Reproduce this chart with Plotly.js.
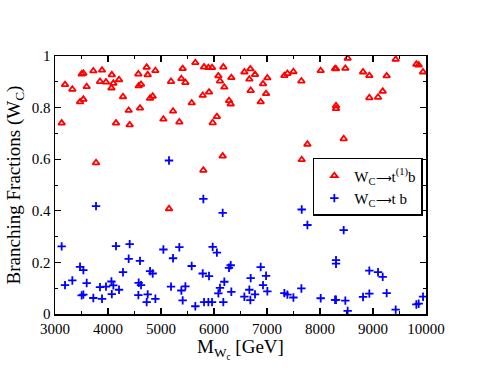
<!DOCTYPE html>
<html>
<head>
<meta charset="utf-8">
<script src="https://cdn.plot.ly/plotly-3.0.1.min.js"></script>
<style>
body{margin:0;background:#fff;}
#chart{width:480px;height:371px;}
</style>
</head>
<body>
<div id="chart"></div>
<script>
// masses of the W_C points (GeV), shared by both decay channels
let massWC = [3126,3189,3327,3472,3503,3535,3535,3598,3723,3774,3849,3887,3962,4065,4072,4101,
  4151,4208,4283,4390,4409,4573,4579,4623,4604,4730,4749,4793,4843,4894,5045,5151,5189,5227,
  5346,5384,5409,5460,5579,5648,5799,5787,5812,5894,5906,5963,5975,6055,6082,6113,6164,6176,
  6195,6283,6315,6327,6573,6667,6686,6692,6774,6881,6925,6982,7007,7328,7385,7498,7649,7655,
  7762,8013,8284,8302,8302,8302,8447,8478,8522,8812,8931,8931,9095,9183,9258,9428,9818,9862,9944];

// BR(W_C -> t(1) b)
let brT1b = [0.740,0.889,0.871,0.822,0.930,0.933,0.832,0.881,0.942,0.586,0.901,0.945,0.899,0.876,0.927,0.894,
  0.740,0.908,0.842,0.789,0.733,0.930,0.884,0.890,0.798,0.956,0.927,0.836,0.844,0.943,0.755,0.408,0.901,0.786,
  0.744,0.912,0.951,0.897,0.818,0.974,0.557,0.847,0.957,0.955,0.860,0.955,0.741,0.765,0.923,0.903,0.612,0.957,
  0.879,0.827,0.814,0.916,0.938,0.910,0.950,0.866,0.928,0.822,0.892,0.854,0.915,0.924,0.932,0.939,0.903,0.598,
  0.658,0.943,0.951,0.950,0.807,0.796,0.679,0.952,0.991,0.938,0.924,0.838,0.840,0.863,0.923,0.987,0.968,0.965,0.938];

// BR(W_C -> t b)
let brTb = [0.262,0.112,0.130,0.183,0.072,0.075,0.170,0.120,0.062,0.418,0.104,0.059,0.106,0.126,0.077,0.111,
  0.263,0.094,0.162,0.214,0.271,0.073,0.121,0.112,0.206,0.046,0.076,0.166,0.157,0.059,0.250,0.595,0.106,0.216,
  0.259,0.091,0.053,0.107,0.186,0.030,0.446,0.157,0.046,0.046,0.147,0.046,0.260,0.238,0.080,0.101,0.392,0.046,
  0.125,0.179,0.189,0.086,0.067,0.094,0.054,0.139,0.076,0.182,0.112,0.148,0.088,0.081,0.075,0.064,0.099,0.405,
  0.345,0.061,0.055,0.055,0.195,0.209,0.325,0.052,0.012,0.066,0.079,0.168,0.162,0.144,0.081,0.017,0.037,0.040,0.067];

let serif = "Liberation Serif, Times New Roman, serif";
let arrow = '<span style="font-size:11px">\u27F6</span>';

let traceT1b = {
  x: massWC,
  y: brT1b,
  mode: 'markers',
  name: 'W<sub>C</sub>' + arrow + 't<sup>(1)</sup>b',
  marker: {symbol: 'triangle-up-open', size: 6, color: '#ff0000', line: {color: '#ff0000', width: 1.8}}
};
let traceTb = {
  x: massWC,
  y: brTb,
  mode: 'markers',
  name: 'W<sub>C</sub>' + arrow + 't b',
  marker: {symbol: 'cross-thin-open', size: 6, color: '#0000ff', line: {color: '#0000ff', width: 1.8}}
};

let axisCommon = {
  showgrid: false,
  zeroline: false,
  showline: true,
  linecolor: '#000',
  linewidth: 1.5,
  mirror: 'ticks',
  ticks: 'inside',
  ticklen: 6,
  tickwidth: 1.2,
  tickcolor: '#000',
  tickfont: {family: serif, size: 15, color: '#000'}
};

let layout = {
  width: 480,
  height: 371,
  margin: {l: 55, r: 54, t: 56, b: 57},
  paper_bgcolor: '#fff',
  plot_bgcolor: '#fff',
  showlegend: true,
  xaxis: Object.assign({}, axisCommon, {
    range: [3000, 10000],
    dtick: 1000,
    tick0: 3000,
    tickformat: 'd',
    minor: {dtick: 500, ticks: 'inside', ticklen: 3, tickcolor: '#000', tickwidth: 1}
  }),
  yaxis: Object.assign({}, axisCommon, {
    range: [0, 1],
    dtick: 0.2,
    minor: {dtick: 0.1, ticks: 'inside', ticklen: 3, tickcolor: '#000', tickwidth: 1},
    title: {text: 'Branching Fractions (W<sub>C</sub>)', font: {family: serif, size: 19, color: '#000'}, standoff: 6}
  }),
  // x title as annotation so it sits a little higher, like the original
  annotations: [{
    text: 'M<sub>W<sub>c</sub></sub> [GeV]',
    xref: 'paper', yref: 'paper',
    x: 0.5, y: -0.078, xanchor: 'center', yanchor: 'top',
    showarrow: false,
    font: {family: serif, size: 19, color: '#000'}
  }],
  legend: {
    x: 0.695, y: 0.605, xanchor: 'left', yanchor: 'top',
    bgcolor: '#fff',
    bordercolor: '#000',
    borderwidth: 1.5,
    font: {family: serif, size: 15, color: '#000'},
    itemwidth: 30,
    tracegroupgap: 0
  }
};

Plotly.newPlot('chart', [traceT1b, traceTb], layout, {staticPlot: true});
</script>
</body>
</html>
